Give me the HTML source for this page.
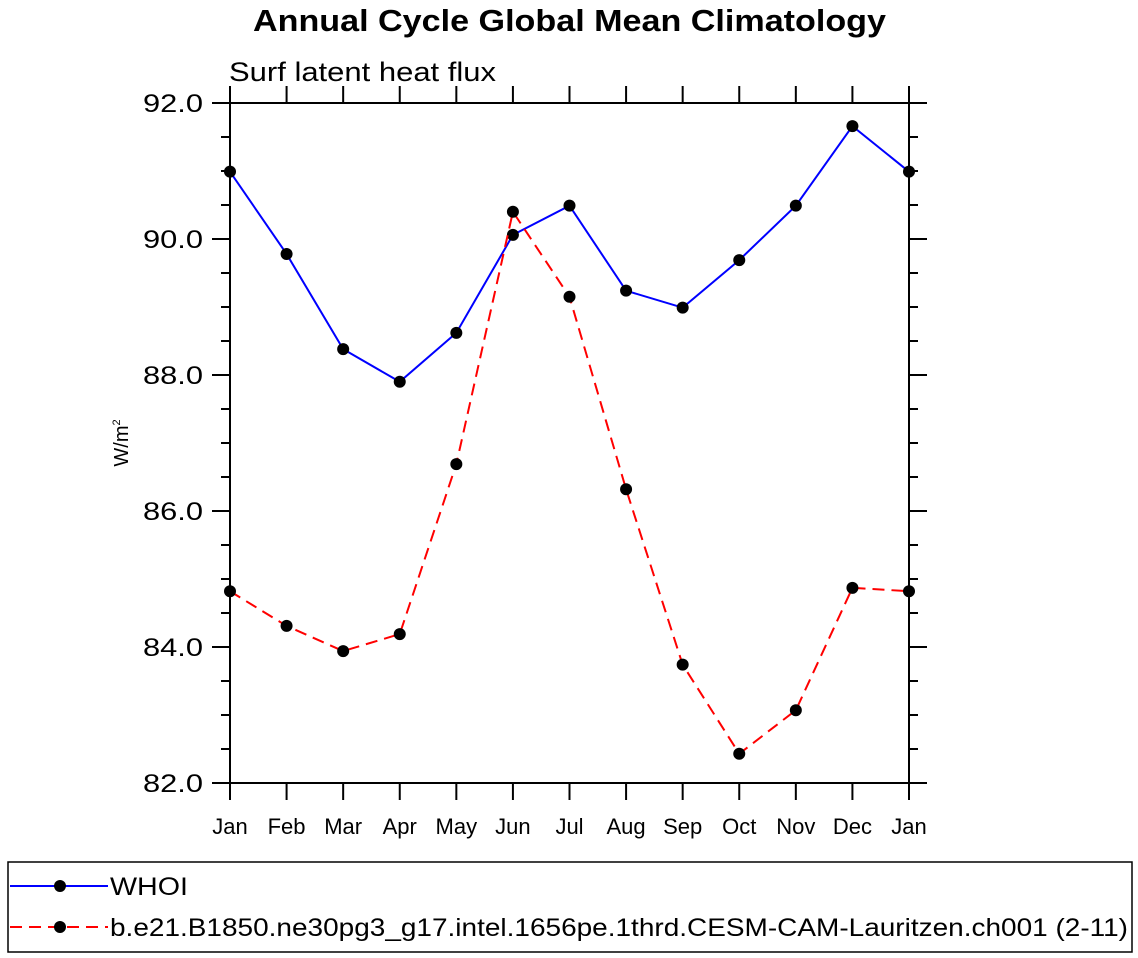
<!DOCTYPE html>
<html><head><meta charset="utf-8"><style>
html,body{margin:0;padding:0;background:#fff;}
svg{display:block;font-family:"Liberation Sans",Arial,sans-serif;}
</style></head><body>
<svg id="c" width="1138" height="958" viewBox="0 0 1138 958">
<text x="253" y="31" font-size="31" font-weight="bold" textLength="633" lengthAdjust="spacingAndGlyphs">Annual Cycle Global Mean Climatology</text>
<text x="229" y="81" font-size="27" textLength="267" lengthAdjust="spacingAndGlyphs">Surf latent heat flux</text>
<text transform="translate(128,443) rotate(-90)" text-anchor="middle" font-size="20">W/m<tspan font-size="11" dy="-8">2</tspan></text>
<g id="axes"></g>
<g id="series"></g>
<rect x="8" y="862" width="1124" height="90" fill="none" stroke="#000" stroke-width="1.5"/>
<g>
<line x1="10" y1="886" x2="108" y2="886" stroke="#0000ff" stroke-width="2"/>
<circle cx="60" cy="886" r="6" fill="#000"/>
<text x="110" y="895" font-size="25" textLength="78" lengthAdjust="spacingAndGlyphs">WHOI</text>
</g>
<g>
<line x1="10" y1="927" x2="108" y2="927" stroke="#ff0000" stroke-width="2" stroke-dasharray="12,7"/>
<circle cx="60" cy="927" r="6" fill="#000"/>
<text x="110" y="936" font-size="25" textLength="1018" lengthAdjust="spacingAndGlyphs">b.e21.B1850.ne30pg3_g17.intel.1656pe.1thrd.CESM-CAM-Lauritzen.ch001 (2-11)</text>
</g>
</svg>
<script>
const months = ["Jan","Feb","Mar","Apr","May","Jun","Jul","Aug","Sep","Oct","Nov","Dec","Jan"];
const whoi = [90.99,89.78,88.38,87.90,88.62,90.06,90.49,89.24,88.99,89.69,90.49,91.66,90.99];
const cesm = [84.82,84.31,83.94,84.19,86.69,90.40,89.15,86.32,83.74,82.43,83.07,84.87,84.82];
const yTicks = [82,84,86,88,90,92];
const yTickLabels = ["82.0","84.0","86.0","88.0","90.0","92.0"];
const NS="http://www.w3.org/2000/svg";
const X0=230,X1=909,Y0=103,Y1=783,YMIN=82,YMAX=92;
function xs(i){return X0+i*(X1-X0)/(months.length-1);}
function ys(v){return Y1-(v-YMIN)*(Y1-Y0)/(YMAX-YMIN);}
function mk(tag,a,parent){const e=document.createElementNS(NS,tag);for(const k in a)e.setAttribute(k,a[k]);parent.appendChild(e);return e;}
const ax=document.getElementById('axes'), se=document.getElementById('series');
const frame=mk('rect',{x:X0,y:Y0,width:X1-X0,height:Y1-Y0,fill:'none',stroke:'#000','stroke-width':2},ax);


months.forEach((m,i)=>{
  const x=xs(i);
  mk('line',{x1:x,y1:Y1,x2:x,y2:Y1+17,stroke:'#000','stroke-width':2},ax);
  mk('line',{x1:x,y1:Y0,x2:x,y2:Y0-17,stroke:'#000','stroke-width':2},ax);
  const t=mk('text',{x:x,y:834,'text-anchor':'middle','font-size':22},ax);
  t.textContent=m;
  
  
});
for(let v=YMIN;v<=YMAX+0.001;v+=0.5){
  const y=ys(v);const major=Math.abs(v-Math.round(v/2)*2)<0.01;
  const L=major?18:9;
  mk('line',{x1:X0-L,y1:y,x2:X0,y2:y,stroke:'#000','stroke-width':2},ax);
  mk('line',{x1:X1,y1:y,x2:X1+L,y2:y,stroke:'#000','stroke-width':2},ax);
}
yTicks.forEach((v,i)=>{
  const t=mk('text',{x:143,y:ys(v)+9,'font-size':25,textLength:60,lengthAdjust:'spacingAndGlyphs'},ax);
  t.textContent=yTickLabels[i];
  
  
});
function drawSeries(vals,color,dash,name){
  const g=mk('g',{},se);
  
  
  const pts=vals.map((v,i)=>xs(i)+','+ys(v)).join(' ');
  const a={points:pts,fill:'none',stroke:color,'stroke-width':2};
  if(dash)a['stroke-dasharray']=dash;
  mk('polyline',a,g);
  vals.forEach((v,i)=>{
    const c=mk('circle',{cx:xs(i),cy:ys(v),r:6,fill:'#000'},g);
    
    
  });
}
drawSeries(whoi,'#0000ff',null,'series-whoi');
drawSeries(cesm,'#ff0000','12,7','series-cesm');
</script>
</body></html>
